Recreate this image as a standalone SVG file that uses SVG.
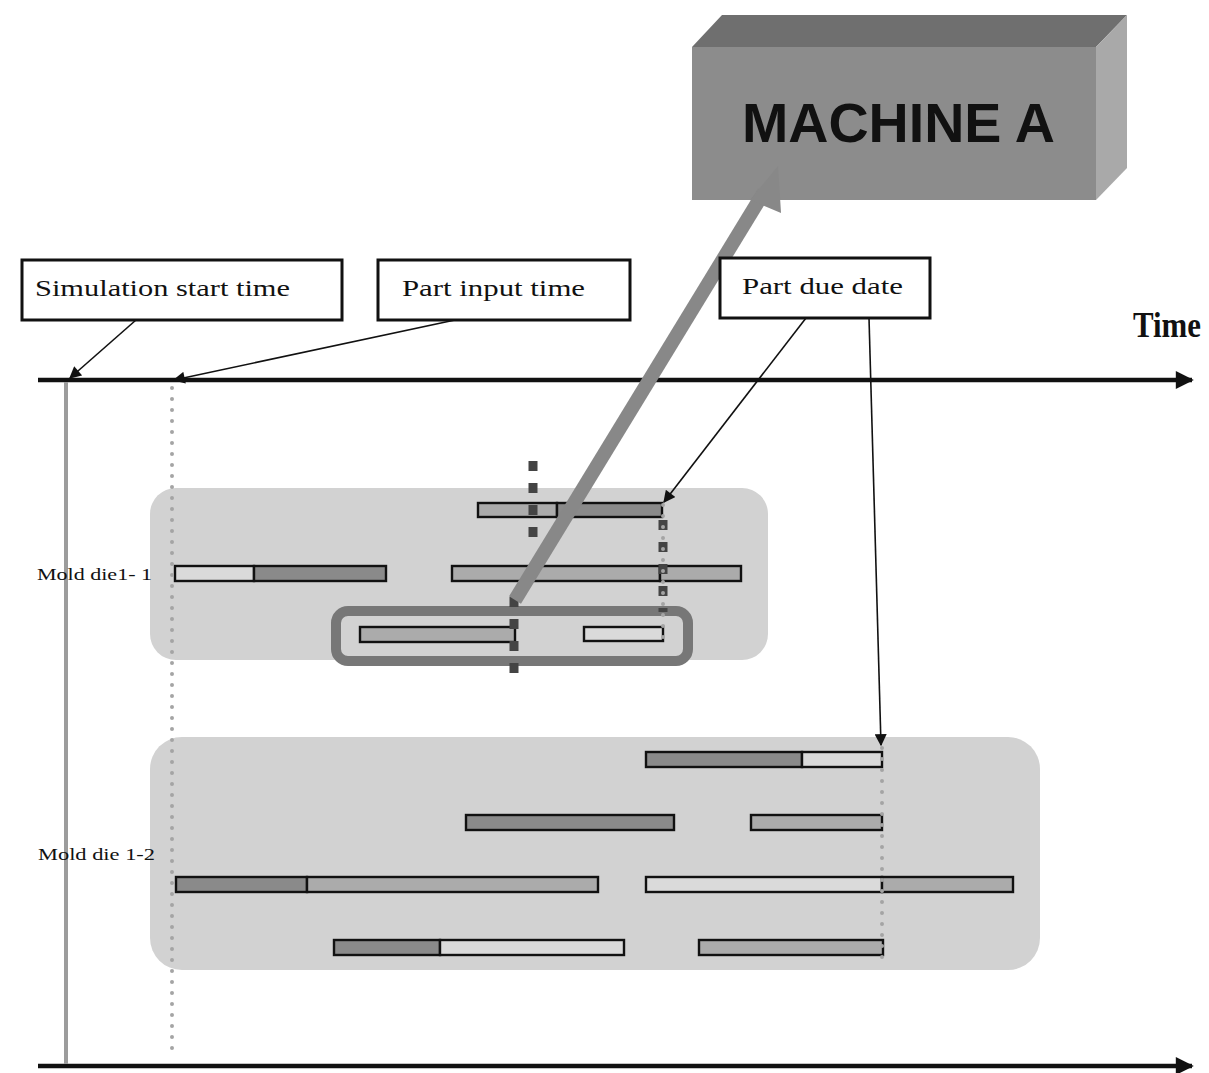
<svg xmlns="http://www.w3.org/2000/svg" width="1209" height="1073" viewBox="0 0 1209 1073">
<style>
.lbl{font-family:"Liberation Serif","DejaVu Serif",serif;font-size:23px;fill:#111}
.box{fill:#fff;stroke:#111;stroke-width:3}
.grp{fill:#d2d2d2}
.bar{stroke:#111;stroke-width:2.4}
.lt{fill:#dadada}
.md{fill:#ababab}
.dk{fill:#8a8a8a}
.thin{stroke:#111;stroke-width:1.6;fill:none}
.axis{stroke:#111;stroke-width:4.5;fill:none}
.dots{stroke:#a4a4a4;stroke-width:4;stroke-linecap:round;stroke-dasharray:0 11;fill:none}
.sq{stroke:#444;stroke-width:9;stroke-dasharray:10 12;fill:none}
.mold{font-family:"Liberation Serif","DejaVu Serif",serif;font-size:16px;fill:#111}
</style>
<defs>
<marker id="ah" viewBox="0 0 10 10" refX="9" refY="5" markerWidth="13" markerHeight="12" markerUnits="userSpaceOnUse" orient="auto">
<path d="M0,0 L10,5 L0,10 z" fill="#111"/>
</marker>
<marker id="axh" viewBox="0 0 10 10" refX="9" refY="5" markerWidth="4.5" markerHeight="4" orient="auto">
<path d="M0,0 L10,5 L0,10 z" fill="#111"/>
</marker>
</defs>
<rect width="1209" height="1073" fill="#fff"/>

<g id="machine-a">
<polygon points="692,47 722,15 1127,15 1096,47" fill="#6f6f6f"/>
<polygon points="1096,47 1127,15 1127,168 1096,200" fill="#a9a9a9"/>
<rect x="692" y="47" width="404" height="153" fill="#8c8c8c"/>
<text x="742" y="142" font-family="Liberation Sans,Arial,sans-serif" font-weight="bold" font-size="56" fill="#111" textLength="313" lengthAdjust="spacingAndGlyphs">MACHINE A</text>
</g>

<g id="axes">
<line class="axis" x1="38" y1="380" x2="1192" y2="380" marker-end="url(#axh)"/>
<line class="axis" x1="38" y1="1066" x2="1192" y2="1066" marker-end="url(#axh)"/>
<line x1="66" y1="382" x2="66" y2="1064" stroke="#9c9c9c" stroke-width="4"/>
<text x="1133" y="337" font-family="Liberation Serif,DejaVu Serif,serif" font-weight="bold" font-size="35" fill="#111" textLength="68" lengthAdjust="spacingAndGlyphs">Time</text>
</g>

<g id="mold-die-1-1">
<rect class="grp" x="150" y="488" width="618" height="172" rx="26"/>
<text class="mold" x="37" y="580" textLength="115" lengthAdjust="spacingAndGlyphs">Mold die1- 1</text>
<rect class="bar md" x="478" y="503" width="79" height="14"/>
<rect class="bar dk" x="557" y="503" width="105" height="14"/>
<rect class="bar lt" x="175" y="566" width="79" height="15"/>
<rect class="bar dk" x="254" y="566" width="132" height="15"/>
<rect class="bar md" x="452" y="566" width="208" height="15"/>
<rect class="bar md" x="660" y="566" width="81" height="15"/>
<rect x="336" y="611" width="352" height="50" rx="12" fill="none" stroke="#777" stroke-width="10"/>
<rect class="bar md" x="360" y="627" width="155" height="15"/>
<rect class="bar lt" x="584" y="627" width="79" height="14"/>
</g>

<g id="mold-die-1-2">
<rect class="grp" x="150" y="737" width="890" height="233" rx="32"/>
<text class="mold" x="38" y="860" textLength="117" lengthAdjust="spacingAndGlyphs">Mold die 1-2</text>
<rect class="bar dk" x="646" y="752" width="156" height="15"/>
<rect class="bar lt" x="802" y="752" width="80" height="15"/>
<rect class="bar dk" x="466" y="815" width="208" height="15"/>
<rect class="bar md" x="751" y="815" width="131" height="15"/>
<rect class="bar dk" x="176" y="877" width="131" height="15"/>
<rect class="bar md" x="307" y="877" width="291" height="15"/>
<rect class="bar lt" x="646" y="877" width="236" height="15"/>
<rect class="bar md" x="882" y="877" width="131" height="15"/>
<rect class="bar dk" x="334" y="940" width="106" height="15"/>
<rect class="bar lt" x="440" y="940" width="184" height="15"/>
<rect class="bar md" x="699" y="940" width="184" height="15"/>
</g>

<g id="markers">
<line class="dots" x1="172" y1="388" x2="172" y2="1052"/>
<line class="sq" x1="533" y1="461" x2="533" y2="545"/>
<line class="sq" x1="514" y1="597" x2="514" y2="680"/>
<line class="sq" x1="663" y1="520" x2="663" y2="612"/>
<line class="dots" x1="663" y1="505" x2="663" y2="640"/>
<line class="dots" x1="882" y1="748" x2="882" y2="962"/>
</g>

<g id="connectors">
<line x1="515" y1="600" x2="764" y2="192" stroke="#888" stroke-width="14"/>
<polygon points="778,166 750,200 781,213" fill="#888"/>
<line class="thin" x1="136" y1="320" x2="70" y2="378" marker-end="url(#ah)"/>
<line class="thin" x1="455" y1="320" x2="174" y2="380" marker-end="url(#ah)"/>
<line class="thin" x1="806" y1="318" x2="664" y2="502" marker-end="url(#ah)"/>
<line class="thin" x1="869" y1="318" x2="881" y2="745" marker-end="url(#ah)"/>
</g>

<g id="label-sim-start">
<rect class="box" x="22" y="260" width="320" height="60"/>
<text class="lbl" x="35" y="296" textLength="255" lengthAdjust="spacingAndGlyphs">Simulation start time</text>
</g>
<g id="label-part-input">
<rect class="box" x="378" y="260" width="252" height="60"/>
<text class="lbl" x="402" y="296" textLength="183" lengthAdjust="spacingAndGlyphs">Part input time</text>
</g>
<g id="label-due-date">
<rect class="box" x="720" y="258" width="210" height="60"/>
<text class="lbl" x="742" y="294" textLength="161" lengthAdjust="spacingAndGlyphs">Part due date</text>
</g>
</svg>
